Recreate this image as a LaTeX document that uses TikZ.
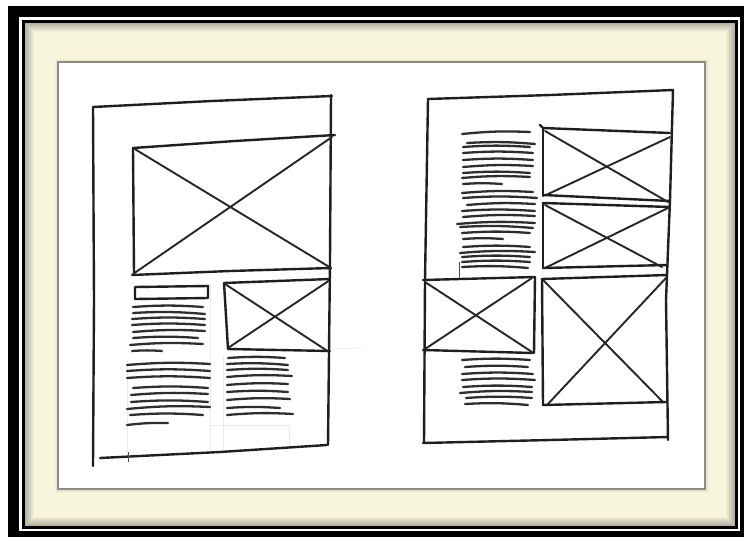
\documentclass[tikz,border=0pt]{standalone}
\definecolor{cream}{RGB}{249,246,222}
\definecolor{paperline}{RGB}{140,140,140}
\begin{document}
\begin{tikzpicture}[x=1pt,y=-1pt,
  sk/.style={line width=2.4pt,line cap=round,line join=round,black!88},
  crossline/.style={line width=1.9pt,line cap=round,black!85},
  txt/.style={line width=2.3pt,line cap=round,black!82},
  guide/.style={line width=0.7pt,black!8},
  tick/.style={line width=1pt,black!70}]
\useasboundingbox (0,0) rectangle (744,541);
% ---------- frame ----------
\fill[white] (0,0) rectangle (744,541);
\fill[black] (8,6) rectangle (746,537);
\fill[white] (19,17) rectangle (740,531);
\fill[black] (22,20) rectangle (738,529);
\fill[cream] (25,23) rectangle (735,526);
\foreach \i in {0,...,8}{
  \draw[black,opacity={0.28*(1-\i/9)},line width=1pt]
    ({25.5+\i},{23.5+\i}) rectangle ({734.5-\i},{525.5-\i});}
\foreach \i in {1,...,3}{
  \draw[black,opacity={0.08*(4-\i)/3},line width=1pt]
    ({58-\i},{62-\i}) rectangle ({705+\i},{489+\i});}
\fill[white] (58,62) rectangle (705,489);
\draw[paperline,line width=1.4pt] (58,62) rectangle (705,489);
% ---------- left sketch ----------
\draw[guide] (210,285) -- (210,452);
\draw[guide] (223,355) -- (223,452);
\draw[guide] (127,360) -- (127,456);
\draw[guide] (210,425) -- (292,425);
\draw[guide] (289,425) -- (289,446);
\draw[guide] (330,349) -- (362,348);
\draw[sk] (93,107) -- (212,101) -- (332,96);
\draw[sk] (331,95) -- (330,260) -- (328,445);
\draw[sk] (93,107) -- (94,300) -- (93,466);
\draw[sk] (100,458) -- (220,452) -- (327,445);
\draw[tick] (128,452) -- (128,462);
% big picture
\draw[sk] (133,148) -- (235,141) -- (335,135);
\draw[sk] (133,148) -- (134,274);
\draw[sk] (132,275) -- (230,271) -- (331,268);
\draw[crossline] (133,148) -- (331,268);
\draw[crossline] (133,274) -- (332,137);
% heading bar
\draw[sk] (135,287) -- (208,286) -- (208,298) -- (135,299) -- cycle;
% small picture
\draw[sk] (224,283) -- (330,279);
\draw[sk] (224,283) -- (228,349);
\draw[sk] (228,349) -- (330,351);
\draw[crossline] (225,284) -- (329,352);
\draw[crossline] (228,348) -- (330,280);
% left column text
\foreach \a/\b/\y/\d in {133/203/307/0,133/205/313/1,132/205/319/0,132/205/325/0,
  133/205/332/-1,133/198/338/0,130/203/345/-1,132/162/351/0,
  127/210/365/-1,127/210/371/0,127/210/378/0,133/208/388/0,131/208/395/-1,
  131/208/402/0,127/210/409/-2,130/203/415/0,127/168/425/-2}{
  \draw[txt] (\a,\y) to[bend left=4] (\b,{\y+\d});}
% right column text
\foreach \a/\b/\y/\d in {228/285/358/0,227/288/364/1,227/288/370/0,227/292/377/-1,
  227/288/385/-1,227/288/392/0,227/290/400/-1,227/280/408/0,227/293/415/-1}{
  \draw[txt] (\a,\y) to[bend left=4] (\b,{\y+\d});}
% ---------- right sketch ----------
\draw[sk] (428,99) -- (550,95) -- (673,90);
\draw[sk] (673,90) -- (670,200) -- (666,300) -- (668,440);
\draw[sk] (428,99) -- (425,280) -- (424,443);
\draw[sk] (423,443) -- (550,440) -- (668,437);
% box A
\draw[sk] (540,125) -- (543,128) -- (670,133);
\draw[sk] (543,128) -- (543,196);
\draw[sk] (543,195) -- (670,201);
\draw[crossline] (545,131) -- (668,202);
\draw[crossline] (546,195) -- (670,137);
% box B
\draw[sk] (543,203) -- (670,207);
\draw[sk] (543,203) -- (543,268);
\draw[sk] (543,268) -- (667,265);
\draw[crossline] (545,205) -- (662,267);
\draw[crossline] (545,268) -- (668,208);
% box C
\draw[sk] (423,280) -- (535,277);
\draw[sk] (535,277) -- (534,353);
\draw[sk] (423,350) -- (533,353);
\draw[crossline] (425,282) -- (532,352);
\draw[crossline] (425,349) -- (532,278);
% box D
\draw[sk] (542,279) -- (667,275);
\draw[sk] (542,279) -- (543,405);
\draw[sk] (543,405) -- (666,402);
\draw[crossline] (543,280) -- (663,402);
\draw[crossline] (547,405) -- (666,278);
% text column edge
\draw[tick] (459,262) -- (459,278);
% top text column
\foreach \a/\b/\y/\d in {462/530/134/-2,467/535/143/1,463/530/147/0,463/533/153/0,
  463/533/160/0,463/533/167/-1,463/530/173/0,462/530/178/-1,463/502/184/0,
  462/533/193/-1,463/537/198/0,467/535/205/-1,462/535/211/0,463/535/217/-1,
  457/535/224/-1,460/533/227/1,462/530/233/0,463/503/239/0,463/530/247/0,
  460/535/253/-1,462/530/257/0,462/530/262/0,462/528/267/1}{
  \draw[txt] (\a,\y) to[bend left=4] (\b,{\y+\d});}
% bottom text column
\foreach \a/\b/\y/\d in {462/530/360/0,465/528/367/0,462/533/374/0,462/535/380/0,
  463/532/387/0,460/532/393/-1,466/532/398/0,465/528/404/1}{
  \draw[txt] (\a,\y) to[bend left=4] (\b,{\y+\d});}
\end{tikzpicture}
\end{document}
